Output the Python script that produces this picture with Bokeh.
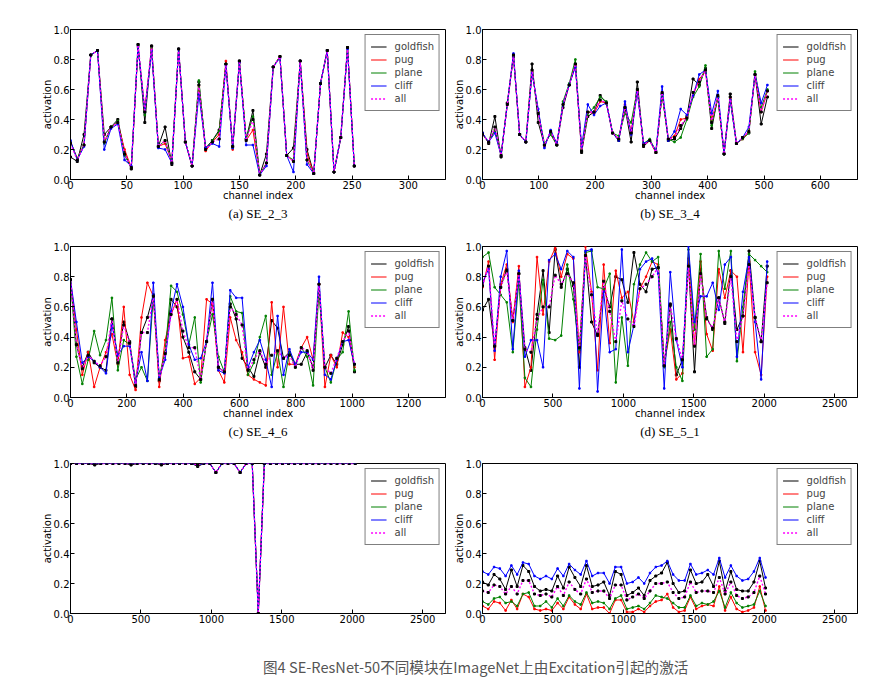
from bokeh.plotting import figure
from bokeh.layouts import column, row
from bokeh.models import (Range1d, Legend, LegendItem, FixedTicker,
                          NumeralTickFormatter, Title, Div)
from bokeh.embed import file_html
from bokeh.resources import INLINE

SERIES = ["goldfish", "pug", "plane", "cliff", "all"]
COLORS = {"goldfish": "#000000", "pug": "#ff0000", "plane": "#008000",
          "cliff": "#0000ff", "all": "#ff00ff"}
Y_TICKS = [0.0, 0.2, 0.4, 0.6, 0.8, 1.0]

# ---------------- (a) SE_2_3 : every 6th channel ----------------
a_step = 6
a_goldfish = [.15, .12, .30, .83, .86, .30, .35, .40, .18, .07, .90, .38, .89, .22, .35, .10, .87, .25, .09, .65, .21, .26,
              .33, .77, .22, .79, .27, .46, .03, .17, .75, .82, .16, .21, .79, .20, .04, .64, .86, .05, .28, .88, .09]
a_pug = [.25, .14, .23, .83, .86, .25, .35, .38, .20, .08, .88, .47, .87, .22, .24, .12, .87, .25, .09, .62, .19, .25,
         .30, .79, .20, .78, .26, .33, .03, .11, .75, .82, .16, .12, .79, .17, .04, .64, .86, .05, .28, .88, .09]
a_plane = [.25, .14, .23, .83, .86, .24, .35, .39, .16, .08, .89, .43, .88, .22, .26, .12, .87, .25, .09, .66, .20, .26,
           .32, .77, .21, .78, .27, .42, .03, .11, .75, .82, .16, .13, .79, .13, .04, .64, .86, .05, .28, .88, .09]
a_cliff = [.26, .13, .22, .83, .86, .20, .34, .37, .13, .09, .89, .45, .86, .21, .20, .11, .87, .25, .09, .57, .21, .24,
           .22, .76, .21, .78, .23, .23, .03, .09, .75, .81, .16, .05, .79, .10, .04, .64, .86, .05, .28, .87, .09]
a_all = [.24, .13, .23, .83, .86, .25, .35, .38, .17, .08, .90, .45, .89, .22, .26, .11, .87, .25, .09, .63, .20, .25,
         .27, .77, .22, .79, .26, .40, .03, .11, .75, .82, .16, .12, .79, .13, .04, .64, .86, .05, .28, .88, .09]
a_xticks = [0, 50, 100, 150, 200, 250, 300]

# ---------------- (b) SE_3_4 : every 11th channel ----------------
b_step = 11
b_goldfish = [.31, .24, .42, .15, .51, .82, .30, .25, .77, .38, .23, .31, .23, .48, .63, .77, .18, .42, .45, .56, .51, .31, .26, .48,
              .25, .65, .22, .26, .18, .57, .26, .27, .34, .42, .67, .63, .74, .34, .55, .17, .57, .24, .28, .31, .70, .37, .55]
b_pug = [.30, .25, .33, .16, .50, .83, .30, .25, .72, .45, .22, .32, .24, .50, .63, .76, .20, .45, .44, .52, .51, .31, .27, .50,
         .32, .59, .23, .26, .18, .58, .27, .29, .40, .41, .56, .67, .72, .40, .54, .18, .54, .24, .27, .32, .70, .45, .59]
b_plane = [.30, .25, .33, .17, .50, .83, .30, .25, .72, .45, .24, .30, .23, .52, .64, .80, .20, .44, .48, .55, .52, .31, .29, .44,
           .38, .60, .24, .27, .19, .57, .27, .25, .28, .40, .55, .62, .76, .36, .55, .17, .53, .24, .27, .31, .72, .48, .60]
b_cliff = [.31, .25, .31, .16, .50, .84, .30, .25, .71, .47, .21, .33, .24, .50, .63, .75, .22, .50, .43, .49, .51, .31, .26, .52,
           .30, .58, .24, .26, .19, .62, .26, .32, .47, .43, .56, .70, .73, .44, .59, .18, .53, .24, .28, .35, .70, .51, .63]
b_all = [.30, .25, .35, .16, .50, .83, .30, .25, .73, .44, .23, .32, .23, .50, .63, .77, .19, .45, .45, .53, .51, .31, .27, .48,
         .31, .60, .23, .26, .18, .58, .27, .28, .36, .41, .58, .65, .73, .38, .56, .17, .55, .24, .28, .32, .70, .45, .59]
b_xticks = [0, 100, 200, 300, 400, 500, 600]

# ---------------- (c) SE_4_6 : every 21st channel ----------------
c_step = 21
c_goldfish = [.78, .35, .20, .30, .23, .20, .18, .52, .25, .50, .37, .07, .43, .53, .68, .11, .30, .65, .60, .40, .30, .17, .12, .37, .65,
              .20, .17, .62, .52, .26, .20, .14, .30, .20, .51, .46, .26, .30, .22, .22, .30, .20, .75, .20, .28, .22, .35, .47, .17]
c_pug = [.78, .45, .15, .30, .07, .20, .30, .42, .22, .60, .15, .05, .53, .76, .67, .07, .38, .55, .65, .26, .27, .09, .13, .65, .62,
         .18, .10, .53, .38, .30, .15, .12, .10, .08, .63, .20, .60, .22, .22, .33, .40, .25, .75, .07, .28, .20, .43, .40, .20]
c_plane = [.78, .27, .09, .25, .44, .28, .38, .66, .18, .38, .35, .12, .20, .11, .67, .14, .30, .74, .70, .55, .35, .53, .10, .37, .55,
           .27, .17, .67, .57, .56, .15, .23, .40, .54, .15, .30, .07, .30, .20, .33, .27, .08, .70, .20, .10, .25, .30, .57, .18]
c_cliff = [.78, .50, .23, .27, .24, .20, .16, .48, .28, .34, .34, .10, .30, .11, .76, .13, .25, .57, .75, .60, .35, .25, .26, .37, .76,
           .18, .16, .71, .66, .66, .20, .30, .38, .25, .07, .54, .15, .32, .22, .30, .30, .25, .80, .15, .12, .25, .37, .38, .22]
c_all = [.78, .35, .19, .28, .24, .21, .27, .52, .23, .48, .36, .08, .43, .43, .67, .12, .29, .55, .65, .44, .33, .33, .12, .37, .65,
         .20, .17, .60, .55, .48, .18, .25, .31, .22, .28, .31, .26, .28, .20, .33, .31, .18, .75, .20, .16, .26, .37, .44, .22]
c_xticks = [0, 200, 400, 600, 800, 1000, 1200]

# ---------------- (d) SE_5_1 : every 43rd channel ----------------
d_step = 43
d_goldfish = [.58, .65, .34, .73, .85, .51, .82, .33, .18, .55, .84, .43, .98, .73, .85, .74, .20, .94, .50, .41, .73, .60, .80, .78,
              .63, .96, .75, .70, .85, .86, .21, .62, .15, .25, .88, .17, .85, .53, .45, .66, .50, .84, .45, .54, .97, .53, .37, .87]
d_pug = [.73, .90, .25, .75, .88, .50, .87, .07, .20, .93, .55, .90, .99, .80, .95, .92, .30, 1.0, .70, .18, .88, .36, .84, .66,
         .70, .50, .72, .80, .90, .88, .22, .45, .12, .16, .92, .35, .90, .42, .31, .85, .66, .84, .80, .30, .90, .30, .15, .80]
d_plane = [.93, .96, .73, .68, .63, .30, .77, .13, .07, .45, .78, .39, .38, .41, .88, .65, .32, .96, .97, .73, .72, .82, .10, .53,
           .21, .75, .88, .96, .90, .93, .20, .50, .20, .11, .98, .45, .95, .27, .32, .97, .72, .97, .24, .60, .95, .91, .87, .83]
d_cliff = [.76, .85, .31, .80, .97, .32, .84, .27, .38, .38, .20, .91, .95, .85, .97, .93, .06, .97, .98, .04, .70, .30, .32, .98,
           .30, .48, .85, .90, .92, .82, .06, .83, .38, .20, 1.0, .50, .67, .67, .76, .58, .88, .93, .27, .70, .93, .50, .12, .90]
d_all = [.74, .87, .34, .73, .84, .51, .82, .32, .30, .52, .60, .60, .81, .75, .82, .76, .33, .94, .68, .42, .77, .57, .37, .64,
         .52, .47, .72, .75, .80, .86, .21, .61, .39, .25, .87, .34, .82, .52, .46, .66, .49, .80, .37, .54, .88, .53, .37, .76]
d_xticks = [0, 500, 1000, 1500, 2000, 2500]

# ---------------- (e) SE_5_2 : every 43rd channel ----------------
e_step = 43
e_goldfish = [1.0, 1.0, 1.0, 1.0, .99, 1.0, 1.0, 1.0, 1.0, 1.0, .99, 1.0, 1.0, 1.0, 1.0, .99, 1.0, 1.0, 1.0, 1.0, 1.0, .98, 1.0, 1.0,
              .94, 1.0, 1.0, 1.0, .94, 1.0, 1.0, 0.0, 1.0, 1.0, 1.0, 1.0, 1.0, 1.0, 1.0, 1.0, 1.0, 1.0, 1.0, 1.0, 1.0, 1.0, 1.0, 1.0]
e_pug = [1.0, 1.0, 1.0, 1.0, 1.0, 1.0, 1.0, 1.0, 1.0, 1.0, 1.0, 1.0, 1.0, 1.0, 1.0, 1.0, 1.0, 1.0, 1.0, 1.0, 1.0, .99, 1.0, 1.0,
         .94, 1.0, 1.0, 1.0, .94, 1.0, 1.0, 0.0, 1.0, 1.0, 1.0, 1.0, 1.0, 1.0, 1.0, 1.0, 1.0, 1.0, 1.0, 1.0, 1.0, 1.0, 1.0, 1.0]
e_plane = [1.0, 1.0, 1.0, 1.0, 1.0, 1.0, 1.0, 1.0, 1.0, 1.0, 1.0, 1.0, 1.0, 1.0, 1.0, 1.0, 1.0, 1.0, 1.0, 1.0, 1.0, .99, 1.0, 1.0,
           .94, 1.0, 1.0, 1.0, .94, 1.0, 1.0, 0.0, 1.0, 1.0, 1.0, 1.0, 1.0, 1.0, 1.0, 1.0, 1.0, 1.0, 1.0, 1.0, 1.0, 1.0, 1.0, 1.0]
e_cliff = [1.0, 1.0, 1.0, 1.0, 1.0, 1.0, 1.0, 1.0, 1.0, 1.0, 1.0, 1.0, 1.0, 1.0, 1.0, 1.0, 1.0, 1.0, 1.0, 1.0, 1.0, .99, 1.0, 1.0,
           .94, 1.0, 1.0, 1.0, .94, 1.0, 1.0, 0.0, 1.0, 1.0, 1.0, 1.0, 1.0, 1.0, 1.0, 1.0, 1.0, 1.0, 1.0, 1.0, 1.0, 1.0, 1.0, 1.0]
e_all = [1.0, 1.0, 1.0, 1.0, 1.0, 1.0, 1.0, 1.0, 1.0, 1.0, 1.0, 1.0, 1.0, 1.0, 1.0, 1.0, 1.0, 1.0, 1.0, 1.0, 1.0, .99, 1.0, 1.0,
         .94, 1.0, 1.0, 1.0, .94, 1.0, 1.0, 0.0, 1.0, 1.0, 1.0, 1.0, 1.0, 1.0, 1.0, 1.0, 1.0, 1.0, 1.0, 1.0, 1.0, 1.0, 1.0, 1.0]
e_xticks = [0, 500, 1000, 1500, 2000, 2500]

# ---------------- (f) SE_5_3 : every 41st channel ----------------
f_step = 41
f_goldfish = [.21, .19, .26, .23, .16, .29, .18, .32, .28, .18, .15, .16, .15, .25, .17, .31, .24, .18, .32, .18, .19, .21, .12, .28, .26,
              .12, .14, .17, .12, .22, .25, .27, .34, .20, .14, .15, .29, .20, .21, .26, .18, .35, .15, .28, .16, .15, .15, .21, .35, .17]
f_pug = [.05, .03, .08, .07, .02, .09, .03, .13, .11, .03, .02, .03, .02, .07, .03, .11, .06, .03, .13, .03, .04, .04, .00, .09, .09,
         .01, .01, .03, .01, .05, .08, .09, .13, .04, .01, .02, .11, .03, .05, .06, .05, .18, .02, .11, .03, .01, .02, .04, .18, .02]
f_plane = [.08, .06, .10, .11, .07, .08, .05, .13, .14, .05, .05, .08, .04, .10, .05, .12, .08, .06, .14, .07, .08, .07, .03, .10, .12,
           .03, .04, .05, .03, .07, .12, .11, .10, .07, .04, .04, .12, .05, .07, .06, .08, .15, .04, .14, .07, .04, .05, .06, .15, .05]
f_cliff = [.28, .26, .31, .30, .25, .32, .26, .34, .33, .25, .23, .25, .23, .30, .25, .33, .29, .26, .35, .25, .27, .27, .20, .31, .31,
           .20, .21, .24, .20, .27, .31, .32, .35, .26, .22, .22, .33, .26, .27, .29, .26, .37, .24, .32, .25, .22, .23, .28, .37, .24]
f_all = [.15, .14, .19, .18, .13, .18, .13, .22, .22, .13, .12, .13, .11, .18, .12, .21, .16, .13, .23, .14, .15, .15, .10, .19, .19,
         .09, .11, .13, .10, .15, .20, .20, .21, .14, .10, .11, .21, .14, .15, .15, .14, .24, .13, .21, .12, .10, .11, .14, .25, .13]
f_xticks = [0, 500, 1000, 1500, 2000, 2500]

CAPTION = "图4 SE-ResNet-50不同模块在ImageNet上由Excitation引起的激活"


def style_axis(ax):
    ax.major_tick_in = 4
    ax.major_tick_out = 0
    ax.minor_tick_line_color = None
    ax.axis_line_color = "black"
    ax.major_tick_line_color = "black"
    ax.major_label_text_font = "DejaVu Sans"
    ax.major_label_text_font_size = "10px"
    ax.major_label_text_color = "black"
    ax.major_label_standoff = 1
    ax.axis_label_text_font = "DejaVu Sans"
    ax.axis_label_text_font_size = "10px"
    ax.axis_label_text_font_style = "normal"
    ax.axis_label_text_color = "black"
    ax.axis_label_standoff = -2


def make_panel(values, step, xmax, xticks, width, height, bl, br, bt, bb,
               xlabel=None, caption=None):
    p = figure(width=width, height=height, x_range=Range1d(0, xmax),
               y_range=Range1d(0, 1), output_backend="svg",
               toolbar_location=None, min_border_left=bl, min_border_right=br,
               min_border_top=bt, min_border_bottom=bb)
    p.background_fill_color = "white"
    p.border_fill_color = "white"
    p.outline_line_color = "black"
    p.outline_line_width = 1
    p.xgrid.visible = False
    p.ygrid.visible = False

    items = []
    for name, vals in zip(SERIES, values):
        xs = [step * i for i in range(len(vals))]
        if name == "all":
            r = p.line(xs, vals, line_color=COLORS[name], line_width=1.4,
                       line_dash="2 2")
            p.scatter(xs, vals, marker="square", size=2, color="black")
        elif name == "goldfish":
            r = p.line(xs, vals, line_color=COLORS[name], line_width=1)
            p.scatter(xs, vals, marker="square", size=2, color="black")
        else:
            r = p.line(xs, vals, line_color=COLORS[name], line_width=1)
            p.scatter(xs, vals, marker="square", size=1.5,
                      color=COLORS[name])
        items.append(LegendItem(label=name, renderers=[r]))

    legend = Legend(items=items, location="top_right",
                    border_line_color="black", border_line_width=1,
                    label_text_font="DejaVu Sans", label_text_font_size="10px",
                    glyph_width=16, glyph_height=13, label_height=13,
                    label_standoff=8, padding=5, spacing=0, margin=5,
                    background_fill_alpha=1)
    p.add_layout(legend)

    xax = p.xaxis[0]
    yax = p.yaxis[0]
    xax.ticker = FixedTicker(ticks=xticks)
    yax.ticker = FixedTicker(ticks=Y_TICKS)
    yax.formatter = NumeralTickFormatter(format="0.0")
    style_axis(xax)
    style_axis(yax)
    yax.axis_label = "activation"
    if xlabel:
        xax.axis_label = xlabel
    if caption:
        p.add_layout(Title(text=caption, align="center",
                           text_font="Liberation Serif",
                           text_font_size="13px", text_font_style="normal",
                           text_color="black", standoff=0), "below")
    return p


pa = make_panel([a_goldfish, a_pug, a_plane, a_cliff, a_all], a_step, 333,
                a_xticks, 448, 232, 70, 3, 29, 53, "channel index", "(a) SE_2_3")
pb = make_panel([b_goldfish, b_pug, b_plane, b_cliff, b_all], b_step, 666,
                b_xticks, 427, 232, 34, 18, 29, 53, "channel index", "(b) SE_3_4")
pc = make_panel([c_goldfish, c_pug, c_plane, c_cliff, c_all], c_step, 1331,
                c_xticks, 448, 217, 70, 3, 14, 52, "channel index", "(c) SE_4_6")
pd_ = make_panel([d_goldfish, d_pug, d_plane, d_cliff, d_all], d_step, 2662,
                 d_xticks, 427, 217, 34, 18, 14, 52, "channel index", "(d) SE_5_1")
pe = make_panel([e_goldfish, e_pug, e_plane, e_cliff, e_all], e_step, 2662,
                e_xticks, 448, 186, 70, 3, 14, 22)
pf = make_panel([f_goldfish, f_pug, f_plane, f_cliff, f_all], f_step, 2662,
                f_xticks, 427, 186, 34, 18, 14, 22)

cap = Div(text=('<div style="padding-top:22px;padding-left:263px;'
                'font-family:\'Noto Sans CJK SC\';font-size:14.6px;color:#555555;'
                'white-space:nowrap;">' + CAPTION + '</div>'),
          width=875, height=40, margin=(0, 0, 0, 0))

layout = column(row(pa, pb), row(pc, pd_), row(pe, pf), cap)

open("out.html", "w").write(file_html(layout, INLINE))
